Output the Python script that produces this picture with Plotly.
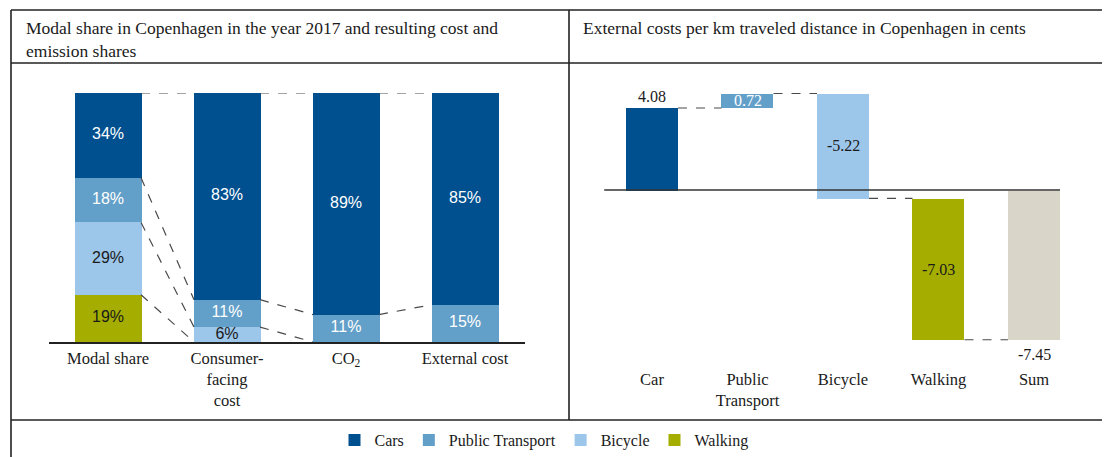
import plotly.graph_objects as go

# ---- data -----------------------------------------------------------------
share_cats = ["Modal share", "Consumer-<br>facing<br>cost", "CO<sub>2</sub>", "External cost"]
modes = ["Walking", "Bicycle", "Public Transport", "Cars"]   # bottom -> top
walking_share = [19, 0, 0, 0]
bicycle_share = [29, 6, 0, 0]
pt_share = [18, 11, 11, 15]
cars_share = [34, 83, 89, 85]

cost_cats = ["Car", "Public<br>Transport", "Bicycle", "Walking", "Sum"]
cost_values = [4.08, 0.72, -5.22, -7.03]
cost_sum = -7.45

# ---- style ----------------------------------------------------------------
# the page puts the plot 8px in from the top-left corner, so size it to fit
OFF = 8
W, H = 1110 - OFF, 457 - OFF
SERIF = "Liberation Serif, Times New Roman, serif"
SANS = "Liberation Sans, Arial, sans-serif"
INK = "#1a1a1a"
COLORS = {"Cars": "#00508f", "Public Transport": "#63a0c9",
          "Bicycle": "#9cc6ea", "Walking": "#a5ae00"}
SUM_COLOR = "#d9d6c9"
TEXT_ON = {"Cars": "white", "Public Transport": "white",
           "Bicycle": INK, "Walking": INK}
DASH = dict(color="#4a4a4a", width=1.2, dash="dash")
LW = 0.555   # left bar width
RW = 0.545   # right bar width


def px_x(x):
    return (x - OFF) / W


def px_y(y):
    return 1 - (y - OFF) / H


fig = go.Figure()

# ---- left: stacked shares -------------------------------------------------
series = {"Walking": walking_share, "Bicycle": bicycle_share,
          "Public Transport": pt_share, "Cars": cars_share}
xs = list(range(len(share_cats)))
for name in modes:
    fig.add_trace(go.Bar(
        x=xs, y=series[name], name=name, width=LW,
        marker=dict(color=COLORS[name], line=dict(width=0)),
        hoverinfo="skip", xaxis="x", yaxis="y",
    ))

# cumulative tops of each segment, bottom -> top
cum = []
for i in xs:
    run, tops = 0, []
    for name in modes:
        run += series[name][i]
        tops.append(run)
    cum.append(tops)

# percentage labels at segment centres
for k, name in enumerate(modes):
    lx, ly, lt = [], [], []
    for i in xs:
        v = series[name][i]
        if v:
            lx.append(i)
            ly.append(cum[i][k] - v / 2)
            lt.append(f"{v}%")
    fig.add_trace(go.Scatter(
        x=lx, y=ly, text=lt, mode="text", textposition="middle center",
        textfont=dict(family=SANS, size=16, color=TEXT_ON[name]),
        showlegend=False, hoverinfo="skip", cliponaxis=False, xaxis="x", yaxis="y",
    ))

# dashed connectors between cumulative segment tops
cx, cy = [], []
for i in xs[:-1]:
    for k in range(len(modes)):
        a, b = cum[i][k], cum[i + 1][k]
        if a == 0 and b == 0:
            continue
        cx += [i + LW / 2, i + 1 - LW / 2, None]
        cy += [a, b, None]
fig.add_trace(go.Scatter(x=cx, y=cy, mode="lines", line=DASH, showlegend=False,
                         hoverinfo="skip", xaxis="x", yaxis="y"))

# ---- right: waterfall -----------------------------------------------------
bases, running = [], 0
for v in cost_values:
    bases.append(running)
    running += v
bar_colors = [COLORS["Cars"], COLORS["Public Transport"], COLORS["Bicycle"],
              COLORS["Walking"], SUM_COLOR]
rx = list(range(len(cost_cats)))
fig.add_trace(go.Bar(
    x=rx, y=cost_values + [cost_sum], base=bases + [0], width=RW,
    marker=dict(color=bar_colors, line=dict(width=0)),
    showlegend=False, hoverinfo="skip", xaxis="x2", yaxis="y2",
))

levels = [b + v for b, v in zip(bases, cost_values)]
wx, wy = [], []
for i, lv in enumerate(levels):
    wx += [i + RW / 2, i + 1 - RW / 2, None]
    wy += [lv, lv, None]
fig.add_trace(go.Scatter(x=wx, y=wy, mode="lines", line=DASH, showlegend=False,
                         hoverinfo="skip", xaxis="x2", yaxis="y2"))

# value labels: first above its bar, sum below its bar, the rest centred
annotations = []
all_vals = cost_values + [cost_sum]
all_bases = bases + [0]
last = len(all_vals) - 1
for i, (b, v) in enumerate(zip(all_bases, all_vals)):
    if i == 0:
        y, anchor, shift = b + v, "bottom", 1
    elif i == last:
        y, anchor, shift = b + v, "top", -4
    else:
        y, anchor, shift = b + v / 2, "middle", 0
    annotations.append(dict(
        xref="x2", yref="y2", x=i, y=y, yanchor=anchor, yshift=shift,
        text=f"{v:.2f}", showarrow=False,
        font=dict(family=SERIF, size=16, color="white" if i == 1 else INK),
    ))

# ---- frame ----------------------------------------------------------------
frame = dict(type="line", xref="paper", yref="paper", line=dict(color="#222222", width=1.6))
shapes = [
    dict(frame, x0=px_x(11), x1=1, y0=px_y(10), y1=px_y(10)),
    dict(frame, x0=px_x(11), x1=1, y0=px_y(63), y1=px_y(63)),
    dict(frame, x0=px_x(11), x1=1, y0=px_y(420), y1=px_y(420)),
    dict(frame, x0=px_x(11), x1=px_x(11), y0=px_y(10), y1=0),
    dict(frame, x0=px_x(569), x1=px_x(569), y0=px_y(10), y1=px_y(420)),
    dict(type="line", xref="x2", yref="y2", x0=-0.52, x1=4 + RW / 2, y0=0, y1=0,
         line=dict(color="#333333", width=1.3)),
]

annotations += [
    dict(xref="paper", yref="paper", x=px_x(24), y=px_y(16), xanchor="left", yanchor="top",
         align="left", showarrow=False,
         text="Modal share in Copenhagen in the year 2017 and resulting cost and<br>emission shares",
         font=dict(family=SERIF, size=17.5, color=INK)),
    dict(xref="paper", yref="paper", x=px_x(581), y=px_y(28), xanchor="left", yanchor="middle",
         align="left", showarrow=False,
         text="External costs per km traveled distance in Copenhagen in cents",
         font=dict(family=SERIF, size=17.5, color=INK)),
]

fig.update_layout(
    width=W, height=H, autosize=False,
    margin=dict(l=0, r=0, t=0, b=0),
    paper_bgcolor="white", plot_bgcolor="white",
    barmode="relative", bargap=0,
    font=dict(family=SERIF, size=16, color=INK),
    shapes=shapes,
    annotations=annotations,
    xaxis=dict(domain=[px_x(48.5), px_x(524.5)], range=[-0.5, 3.5],
               tickvals=xs, ticktext=share_cats, showgrid=False, zeroline=False,
               showline=True, linecolor="#222222", linewidth=1.5, ticks="",
               tickfont=dict(family=SERIF, size=16.5, color=INK), fixedrange=True),
    yaxis=dict(domain=[px_y(342), px_y(93)], range=[0, 100], visible=False,
               fixedrange=True),
    xaxis2=dict(domain=[px_x(604.25), px_x(1081.75)], range=[-0.5, 4.5],
                tickvals=rx, ticktext=cost_cats, showgrid=False, zeroline=False,
                showline=False, ticks="", anchor="y2",
                tickfont=dict(family=SERIF, size=16.5, color=INK), fixedrange=True),
    yaxis2=dict(domain=[px_y(367), px_y(79.5)],
                range=[-(367 - 190) / 20.1, (190 - 79.5) / 20.1],
                visible=False, fixedrange=True),
    legend=dict(orientation="h", x=px_x(544), xanchor="center", y=px_y(440), yanchor="middle",
                traceorder="reversed", font=dict(family=SERIF, size=16, color=INK),
                itemclick=False, itemdoubleclick=False),
)

fig.write_html("out.html")
